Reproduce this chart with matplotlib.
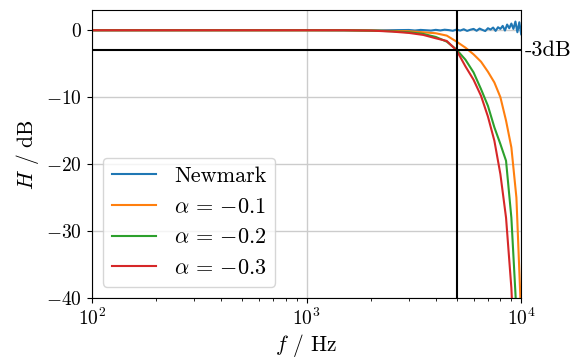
import matplotlib
matplotlib.use("Agg")
import matplotlib.pyplot as plt

plt.rcParams['font.family'] = 'serif'
plt.rcParams['font.serif'] = ['cmr10', 'DejaVu Serif']
plt.rcParams['mathtext.fontset'] = 'cm'
plt.rcParams['axes.formatter.use_mathtext'] = True
plt.rcParams['axes.unicode_minus'] = True
plt.rcParams['font.size'] = 14

# frequency grid (Hz) for the filtered curves
freq = [100, 500, 1000, 1500, 2000, 2500, 3000, 3500, 4000, 4500, 5000,
        5500, 6000, 6500, 7000, 7500, 8000, 8500, 9000, 9500, 10000]
h_alpha1 = [0, 0, 0, 0, -0.05, -0.1, -0.15, -0.3, -0.45, -0.8, -1.7,
            -2.6, -3.6, -4.7, -6.2, -7.8, -10.0, -13.5, -17.5, -25.0, -43.0]
h_alpha2 = [0, 0, 0, 0, -0.05, -0.15, -0.3, -0.55, -1.0, -1.7, -2.9,
            -4.4, -6.3, -8.8, -11.3, -14.5, -17.0, -19.5, -28.0, -42.0, -60.0]
h_alpha3 = [0, 0, 0, 0, -0.05, -0.2, -0.4, -0.7, -1.2, -1.6, -3.0,
            -5.4, -7.4, -9.8, -12.9, -16.5, -21.5, -28.0, -38.5, -55.0, -75.0]

# Newmark curve (flat with growing ripple near 10 kHz)
freq_nm = [100, 1000, 2000, 3000, 3200, 3400, 3600, 3800, 4000, 4200, 4400,
           4600, 4800, 5000, 5200, 5400, 5600, 5800, 6000, 6200, 6400, 6600,
           6800, 7000, 7200, 7400, 7600, 7800, 8000, 8200, 8400, 8600, 8800,
           9000, 9200, 9400, 9600, 9800, 10000]
h_newmark = [0, 0.02, -0.03, 0.04, -0.04, 0.05, 0.0, -0.05, 0.06, -0.03, 0.08,
             0.02, -0.08, 0.1, -0.05, 0.15, -0.1, 0.08, 0.2, -0.08, 0.25,
             0.05, -0.12, 0.3, 0.1, 0.4, -0.1, 0.45, 0.2, 0.65, -0.05, 0.85,
             0.3, 1.0, 0.2, 1.3, -0.3, 1.2, -0.6]

labels = ["Newmark", r"$\alpha\, =\, {-0.1}$", r"$\alpha\, =\, {-0.2}$", r"$\alpha\, =\, {-0.3}$"]

fig = plt.figure(figsize=(5.74, 3.63), dpi=100)
ax = fig.add_axes([0.160, 0.179, 0.748, 0.793])

ax.semilogx(freq_nm, h_newmark, color='C0', lw=1.5, label=labels[0])
ax.semilogx(freq, h_alpha1, color='C1', lw=1.5, label=labels[1])
ax.semilogx(freq, h_alpha2, color='C2', lw=1.5, label=labels[2])
ax.semilogx(freq, h_alpha3, color='C3', lw=1.5, label=labels[3])

ax.axhline(-3, color='black', lw=1.5)
ax.axvline(5000, color='black', lw=1.5)
ax.text(1.008, -3, "-3dB", transform=ax.get_yaxis_transform(), va='center', ha='left',
        fontsize=16)

ax.set_xlim(1e2, 1e4)
ax.set_ylim(-40, 3)
ax.grid(True, which='major', color='#cccccc', lw=1)
ax.set_xlabel(r"$f$ / Hz", fontsize=15.5, labelpad=2)
ax.set_ylabel(r"$H$ / dB", fontsize=15.5)
ax.legend(loc='lower left', fontsize=16)

fig.savefig("out.png", dpi=100)
